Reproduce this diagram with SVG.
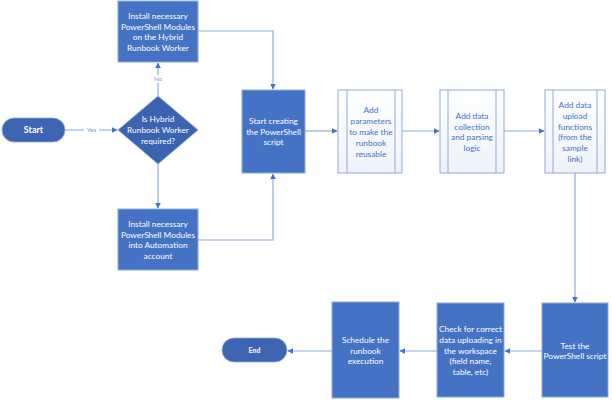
<svg xmlns="http://www.w3.org/2000/svg" width="612" height="400" viewBox="0 0 612 400">
<defs>
<marker id="ah" viewBox="0 0 10 10" refX="9" refY="5" markerWidth="6" markerHeight="6" orient="auto" markerUnits="userSpaceOnUse">
<path d="M0,0 L10,5 L0,10 z" fill="#4472C4"/>
</marker>
<linearGradient id="sub" x1="0" y1="0" x2="0" y2="1">
<stop offset="0" stop-color="#FFFFFF"/>
<stop offset="1" stop-color="#EEF2FA"/>
</linearGradient>
<style>
.box{fill:#4472C4;stroke:#8FAADC;stroke-width:1}
.term{fill:#3D65B3;stroke:#8FAADC;stroke-width:0.8}
.dia{fill:#3A63B0;stroke:#8FAADC;stroke-width:0.8}
.subp{fill:url(#sub);stroke:#8FAADC;stroke-width:1}
.con{fill:none;stroke:#8FAADC;stroke-width:1.2;marker-end:url(#ah)}
text{font-family:Lato,"Liberation Sans",sans-serif;font-size:8.3px;text-anchor:middle}
.w{fill:#FFFFFF}
.b{fill:#4472C4}
.lbl{font-size:6.5px;fill:#7F9FD8}
.bold{font-weight:bold}
</style>
</defs>
<rect width="612" height="400" fill="#FFFFFF"/>
<g id="connectors">
<path class="con" d="M65,130 L117,130"/>
<path class="con" d="M158,96 L158,63"/>
<path class="con" d="M158,163 L158,208"/>
<path class="con" d="M198,31 L273,31 L273,89"/>
<path class="con" d="M198,240 L273,240 L273,174"/>
<path class="con" d="M305,131 L337,131"/>
<path class="con" d="M402,131 L439,131"/>
<path class="con" d="M504,131 L544,131"/>
<path class="con" d="M575,173 L575,302"/>
<path class="con" d="M542,351 L505,351"/>
<path class="con" d="M437,351 L400,351"/>
<path class="con" d="M332,351 L288,351"/>
<rect x="84" y="126" width="15" height="8" fill="#FFFFFF"/>
<text class="lbl" x="91.5" y="132.3">Yes</text>
<rect x="152" y="75" width="12" height="8" fill="#FFFFFF"/>
<text class="lbl" x="158" y="81.3">No</text>
</g>
<g id="start">
<rect class="term" x="2" y="118" width="63" height="24" rx="12"/>
<text class="w bold" x="33.5" y="133.3" style="font-size:9px">Start</text>
</g>
<g id="decision">
<path class="dia" d="M158,96 L198,130 L158,164 L118,130 z"/>
<text class="w" x="158" y="122">Is Hybrid</text>
<text class="w" x="158" y="133">Runbook Worker</text>
<text class="w" x="158" y="143.7">required?</text>
</g>
<g id="install-hybrid">
<rect class="box" x="118" y="1" width="80" height="61"/>
<text class="w" x="158" y="19">Install necessary</text>
<text class="w" x="158" y="29.7">PowerShell Modules</text>
<text class="w" x="158" y="40.3">on the Hybrid</text>
<text class="w" x="158" y="51">Runbook Worker</text>
</g>
<g id="install-automation">
<rect class="box" x="118" y="209" width="80" height="61"/>
<text class="w" x="158" y="227">Install necessary</text>
<text class="w" x="158" y="237.7">PowerShell Modules</text>
<text class="w" x="158" y="248.3">into Automation</text>
<text class="w" x="158" y="259">account</text>
</g>
<g id="start-creating">
<rect class="box" x="242" y="90" width="63" height="83"/>
<text class="w" x="273.5" y="124">Start creating</text>
<text class="w" x="273.5" y="134.5">the PowerShell</text>
<text class="w" x="273.5" y="145">script</text>
</g>
<g id="add-parameters">
<rect class="subp" x="338" y="90" width="64" height="83"/>
<line x1="347" y1="90" x2="347" y2="173" stroke="#8FAADC" stroke-width="1"/>
<line x1="395" y1="90" x2="395" y2="173" stroke="#8FAADC" stroke-width="1"/>
<text class="b" x="371" y="113">Add</text>
<text class="b" x="371" y="124">parameters</text>
<text class="b" x="371" y="135">to make the</text>
<text class="b" x="371" y="146">runbook</text>
<text class="b" x="371" y="156.5">reusable</text>
</g>
<g id="add-collection">
<rect class="subp" x="440" y="90" width="64" height="83"/>
<line x1="448" y1="90" x2="448" y2="173" stroke="#8FAADC" stroke-width="1"/>
<line x1="496" y1="90" x2="496" y2="173" stroke="#8FAADC" stroke-width="1"/>
<text class="b" x="472" y="118.7">Add data</text>
<text class="b" x="472" y="129.5">collection</text>
<text class="b" x="472" y="140.3">and parsing</text>
<text class="b" x="472" y="150.7">logic</text>
</g>
<g id="add-upload">
<rect class="subp" x="545" y="90" width="60" height="83"/>
<line x1="553" y1="90" x2="553" y2="173" stroke="#8FAADC" stroke-width="1"/>
<line x1="597" y1="90" x2="597" y2="173" stroke="#8FAADC" stroke-width="1"/>
<text class="b" x="575" y="108">Add data</text>
<text class="b" x="575" y="119">upload</text>
<text class="b" x="575" y="129.7">functions</text>
<text class="b" x="575" y="140">(from the</text>
<text class="b" x="575" y="151">sample</text>
<text class="b" x="575" y="161.7">link)</text>
</g>
<g id="test">
<rect class="box" x="542" y="303" width="66" height="94"/>
<text class="w" x="575" y="348.7">Test the</text>
<text class="w" x="575" y="359.3">PowerShell script</text>
</g>
<g id="check">
<rect class="box" x="437" y="303" width="67" height="94"/>
<text class="w" x="470.5" y="332">Check for correct</text>
<text class="w" x="470.5" y="343">data uploading in</text>
<text class="w" x="470.5" y="353.7">the workspace</text>
<text class="w" x="470.5" y="364.3">(field name,</text>
<text class="w" x="470.5" y="375">table, etc)</text>
</g>
<g id="schedule">
<rect class="box" x="332" y="302" width="67" height="96"/>
<text class="w" x="365.5" y="343">Schedule the</text>
<text class="w" x="365.5" y="353.7">runbook</text>
<text class="w" x="365.5" y="364.3">execution</text>
</g>
<g id="end">
<rect class="term" x="222" y="338" width="65" height="24" rx="12"/>
<text class="w bold" x="254.5" y="352.5" style="font-size:7px">End</text>
</g>
</svg>
